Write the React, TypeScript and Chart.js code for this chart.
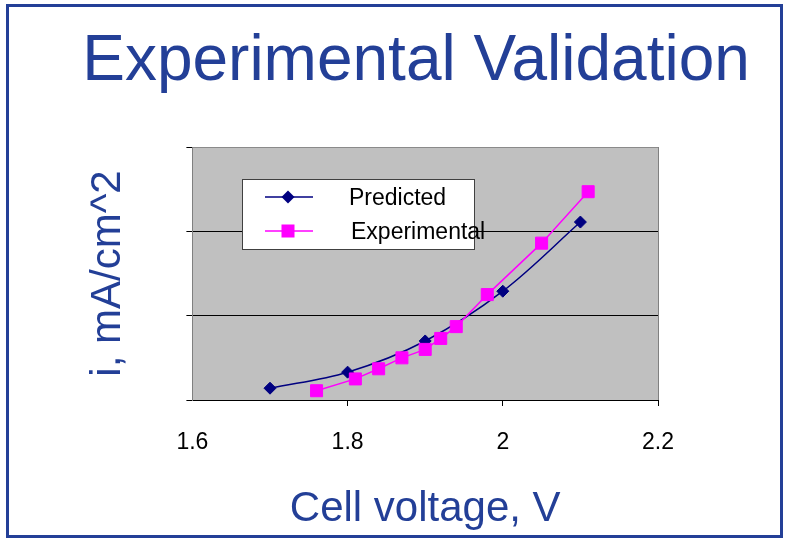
import React, { useEffect, useRef } from 'react';
import { Chart, registerables } from 'chart.js';

Chart.register(...registerables);

// ---- data ----
const xTickValues = [1.6, 1.8, 2.0, 2.2];
const yTickValues = [0, 100, 200, 300];
const seriesNames = ['Predicted', 'Experimental'];
const predictedVoltage = [1.70, 1.80, 1.90, 2.00, 2.10];
const predictedCurrent = [14, 33, 70, 129, 211];
const experimentalVoltage = [1.76, 1.81, 1.84, 1.87, 1.90, 1.92, 1.94, 1.98, 2.05, 2.11];
const experimentalCurrent = [11, 25, 37, 50, 60, 73, 87, 125, 186, 247];
const titleText = 'Experimental Validation';
const xTitleText = 'Cell voltage, V';
const yTitleText = 'i, mA/cm^2';

const FONT = "'Liberation Sans', Arial, sans-serif";
const BLUE = '#233f97';
const NAVY = '#000080';
const MAGENTA = '#ff00ff';

const plotAreaPlugin = {
  id: 'plotArea',
  beforeDraw(chart: any) {
    const { ctx, chartArea: a } = chart;
    ctx.save();
    ctx.fillStyle = '#c0c0c0';
    ctx.fillRect(a.left, a.top, a.right - a.left, a.bottom - a.top);
    ctx.restore();
  },
  beforeDatasetsDraw(chart: any) {
    const { ctx, chartArea: a } = chart;
    ctx.save();
    ctx.strokeStyle = '#808080';
    ctx.lineWidth = 1;
    ctx.beginPath();
    ctx.moveTo(Math.round(a.right) + 0.5, a.top);
    ctx.lineTo(Math.round(a.right) + 0.5, a.bottom);
    ctx.stroke();
    ctx.restore();
  },
};

const boxLegendPlugin = {
  id: 'boxLegend',
  afterDraw(chart: any) {
    const { ctx, chartArea: a } = chart;
    const x0 = Math.round(a.left + 50);
    const y0 = Math.round(a.top + 32);
    const w = 232;
    const h = 70;
    ctx.save();
    ctx.fillStyle = '#ffffff';
    ctx.fillRect(x0, y0, w, h);
    ctx.strokeStyle = '#404040';
    ctx.lineWidth = 1;
    ctx.strokeRect(x0 + 0.5, y0 + 0.5, w, h);
    const rowOffsets = [18, 52];
    chart.data.datasets.forEach((ds: any, i: number) => {
      const cy = y0 + rowOffsets[i];
      ctx.strokeStyle = ds.borderColor;
      ctx.lineWidth = 1.5;
      ctx.beginPath();
      ctx.moveTo(x0 + 23, cy);
      ctx.lineTo(x0 + 71, cy);
      ctx.stroke();
      const mx = x0 + 46;
      ctx.fillStyle = ds.pointBackgroundColor;
      if (ds.pointStyle === 'rectRot') {
        const r = 6.5;
        ctx.beginPath();
        ctx.moveTo(mx, cy - r);
        ctx.lineTo(mx + r, cy);
        ctx.lineTo(mx, cy + r);
        ctx.lineTo(mx - r, cy);
        ctx.closePath();
        ctx.fill();
      } else {
        ctx.fillRect(mx - 6.5, cy - 6.5, 13, 13);
      }
      ctx.fillStyle = '#000';
      ctx.font = `23px ${FONT}`;
      ctx.textAlign = 'left';
      ctx.textBaseline = 'middle';
      ctx.fillText(ds.label, x0 + 107 + i * 2, cy + 2);
    });
    ctx.restore();
  },
};

export default function App() {
  const canvasRef = useRef<HTMLCanvasElement | null>(null);

  useEffect(() => {
    if (!canvasRef.current) return;
    const chart = new Chart(canvasRef.current, {
      type: 'line',
      data: {
        datasets: [
          {
            label: seriesNames[0],
            data: predictedVoltage.map((v, i) => ({ x: v, y: predictedCurrent[i] })),
            borderColor: NAVY,
            backgroundColor: NAVY,
            pointBackgroundColor: NAVY,
            pointBorderColor: NAVY,
            pointStyle: 'rectRot',
            pointRadius: 6,
            pointBorderWidth: 1,
            borderWidth: 1.5,
            tension: 0.35,
            order: 1,
          },
          {
            label: seriesNames[1],
            data: experimentalVoltage.map((v, i) => ({ x: v, y: experimentalCurrent[i] })),
            borderColor: MAGENTA,
            backgroundColor: MAGENTA,
            pointBackgroundColor: MAGENTA,
            pointBorderColor: MAGENTA,
            pointStyle: 'rect',
            pointRadius: 8.5,
            pointBorderWidth: 1,
            borderWidth: 1.5,
            tension: 0,
            order: 0,
          },
        ] as any,
      },
      options: {
        responsive: false,
        animation: false,
        events: [],
        layout: { padding: { left: 40, right: 129, top: 147, bottom: 5 } },
        plugins: {
          legend: { display: false },
          tooltip: { enabled: false },
          title: { display: false },
        },
        scales: {
          x: {
            type: 'linear',
            min: xTickValues[0],
            max: xTickValues[xTickValues.length - 1],
            afterBuildTicks: (scale: any) => {
              scale.ticks = xTickValues.map((v) => ({ value: v }));
            },
            ticks: {
              color: '#000',
              padding: 23,
              font: { family: FONT, size: 23 },
              maxRotation: 0,
              autoSkip: false,
              callback: (v: any) => String(Number(Number(v).toFixed(1))),
            },
            grid: {
              drawOnChartArea: false,
              drawTicks: true,
              tickLength: 6,
              tickColor: (ctx: any) =>
                ctx.tick && ctx.tick.value === xTickValues[0] ? 'rgba(0,0,0,0)' : '#000',
            },
            border: { color: '#000', width: 1 },
            title: {
              display: true,
              text: xTitleText,
              color: BLUE,
              font: { family: FONT, size: 42 },
              padding: { top: 5, bottom: 0 },
            },
          },
          y: {
            type: 'linear',
            min: yTickValues[0],
            max: yTickValues[yTickValues.length - 1],
            afterBuildTicks: (scale: any) => {
              scale.ticks = yTickValues.map((v) => ({ value: v }));
            },
            ticks: { display: false },
            grid: {
              drawTicks: true,
              tickLength: 6,
              tickColor: '#000',
              color: (ctx: any) =>
                ctx.tick && ctx.tick.value === yTickValues[yTickValues.length - 1] ? '#8a8a8a' : '#000',
              lineWidth: 1,
            },
            border: { color: '#808080', width: 1 },
            title: {
              display: true,
              text: yTitleText,
              color: BLUE,
              font: { family: FONT, size: 42 },
              padding: { top: 43, bottom: 53 },
            },
          },
        },
      } as any,
      plugins: [plotAreaPlugin, boxLegendPlugin],
    });
    return () => chart.destroy();
  }, []);

  return (
    <div style={{ position: 'absolute', left: 0, top: 0, width: 787, height: 540, background: '#fff', overflow: 'hidden' }}>
      <canvas ref={canvasRef} width={787} height={540} style={{ position: 'absolute', left: 0, top: 0, width: 787, height: 540 }} />
      <div
        style={{
          position: 'absolute',
          left: 0,
          top: 26,
          width: 832,
          textAlign: 'center',
          fontFamily: FONT,
          fontSize: 64,
          lineHeight: '64px',
          color: BLUE,
          whiteSpace: 'nowrap',
        }}
      >
        {titleText}
      </div>
      <div
        style={{
          position: 'absolute',
          left: 6,
          top: 4,
          width: 777,
          height: 534,
          boxSizing: 'border-box',
          border: `3px solid ${BLUE}`,
          pointerEvents: 'none',
        }}
      />
    </div>
  );
}
